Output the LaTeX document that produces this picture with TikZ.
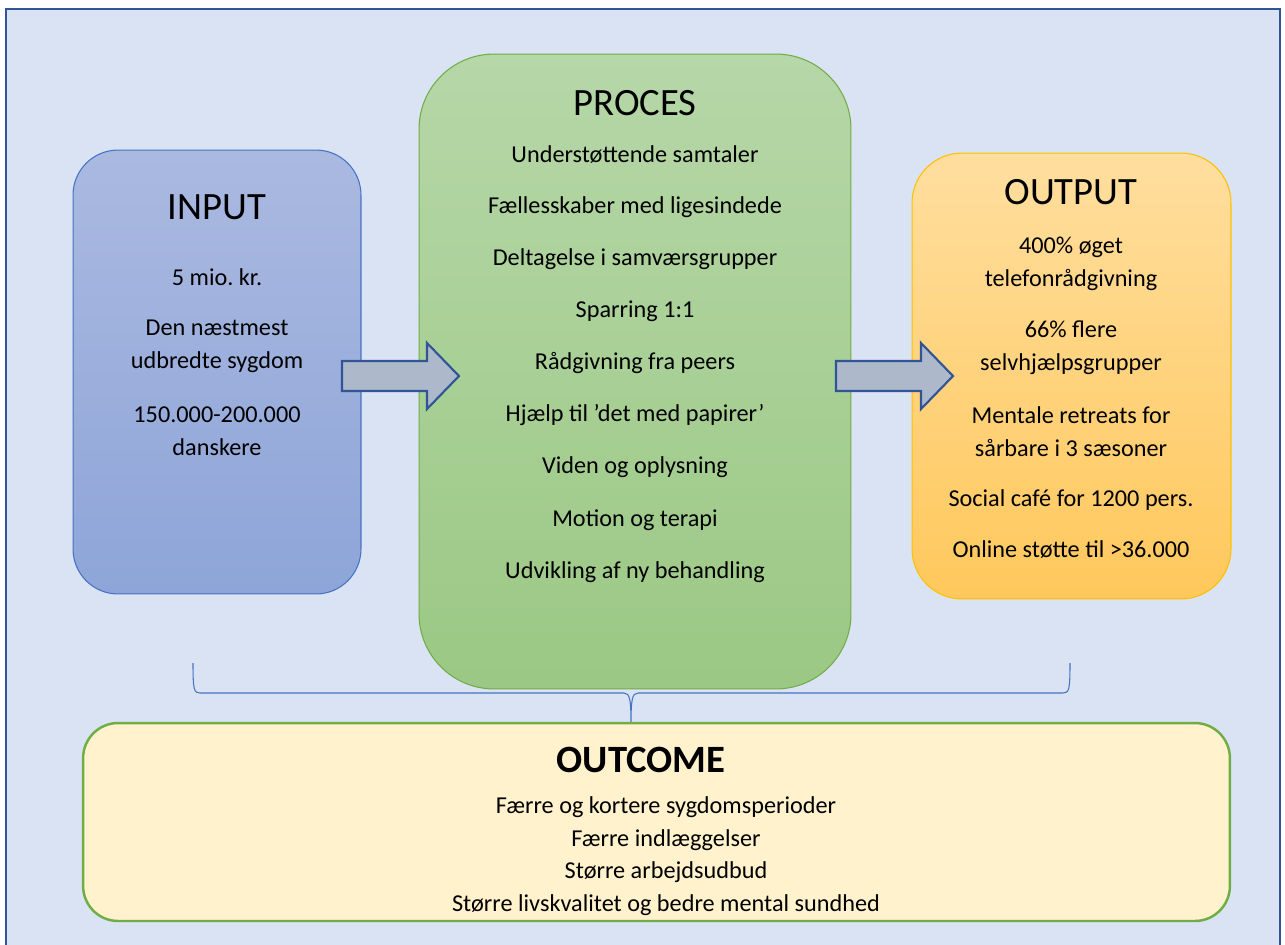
\documentclass[tikz,border=0pt]{standalone}
\usepackage{fontspec}
\setmainfont{Carlito}
\frenchspacing
\usepackage{tikz}
\usetikzlibrary{positioning}
\definecolor{framefill}{HTML}{DAE3F3}
\definecolor{frameline}{HTML}{2F5597}
\definecolor{inputtop}{HTML}{AAB9E0}
\definecolor{inputbottom}{HTML}{8EA5D9}
\definecolor{inputline}{HTML}{4472C4}
\definecolor{proctop}{HTML}{B6D7A8}
\definecolor{procbottom}{HTML}{9BC884}
\definecolor{procline}{HTML}{70AD47}
\definecolor{outtop}{HTML}{FFDE9E}
\definecolor{outbottom}{HTML}{FFC85C}
\definecolor{outline}{HTML}{FFC000}
\definecolor{outcomefill}{HTML}{FFF2CC}
\definecolor{arrowfill}{HTML}{ADB9CA}
\tikzset
{
    inputbox/.style   = {rectangle, rounded corners=0.9cm, draw=inputline, line width=0.6pt, top color=inputtop, bottom color=inputbottom, minimum width=5.76cm, minimum height=8.88cm},
    procbox/.style    = {rectangle, rounded corners=1.5cm, draw=procline, line width=0.6pt, top color=proctop, bottom color=procbottom, minimum width=8.64cm, minimum height=12.7cm},
    outbox/.style     = {rectangle, rounded corners=1cm, draw=outline, line width=0.6pt, top color=outtop, bottom color=outbottom, minimum width=6.38cm, minimum height=8.92cm},
    outcomebox/.style = {rectangle, rounded corners=0.7cm, draw=procline, line width=1.4pt, fill=outcomefill, minimum width=22.94cm, minimum height=3.96cm},
    title/.style      = {align=center, inner sep=0pt, font=\fontsize{22}{26}\selectfont},
    item/.style       = {align=center, inner sep=0pt, font=\fontsize{13.8}{18.8}\selectfont},
    blockarrow/.style = {draw=frameline, line width=1.2pt, fill=arrowfill, line join=miter},
    bracket/.style    = {draw=inputline, line width=0.6pt}
}

\begin{document}
\begin{tikzpicture}[x=0.02cm, y=-0.02cm]
\useasboundingbox (0,0) rectangle (1285,944);
\draw[fill=framefill, draw=frameline, line width=1.2pt] (6,9) rectangle (1280,950);
\newcommand\procGap{52.1}
\coordinate (braceL) at (193,663);
\coordinate (braceR) at (1070,663);
\coordinate (braceTip) at (631,725);
\draw[bracket] (braceL) .. controls (193,690) and (194,693) .. (200,693) -- (624,693)
  .. controls (630,693) and (631,700) .. (braceTip)
  .. controls (631,700) and (632,693) .. (638,693) -- (1063,693)
  .. controls (1069,693) and (1070,690) .. (braceR);
\node(input) [inputbox] at (217,372) {};
\node(proces) [procbox] at (635,371.5) {};
\node(output) [outbox] at (1071.5,376) {};
\node(outcome) [outcomebox] at (656.5,822) {};
\foreach \s in {342,836}
  \draw[blockarrow] (\s,361) -- ++(85,0) -- ++(0,-18) -- ++(32,33) -- ++(-32,33) -- ++(0,-18) -- ++(-85,0) -- cycle;
\node(inTitle) [title] at (217,207) {INPUT};
\node(in1) [item] at (217,277) {5 mio. kr.};
\node(in2) [item] at (217,346.5) {Den næstmest\\udbredte sygdom};
\node(in3) [item] at (217,431) {150.000-200.000\\danskere};
\node(procTitle) [title] at (635,103) {PROCES};
\foreach \t [count=\i] in {Understøttende samtaler, Fællesskaber med ligesindede, Deltagelse i samværsgrupper, Sparring 1:1, Rådgivning fra peers, Hjælp til ’det med papirer’, Viden og oplysning, Motion og terapi, Udvikling af ny behandling}
  \node(proc\i) [item] at (635,{155+\procGap*(\i-1)}) {\t};
\node(outTitle) [title] at (1071,192) {OUTPUT};
\node(out1) [item] at (1071,264) {400\% øget\\telefonrådgivning};
\node(out2) [item] at (1071,347.5) {66\% flere\\selvhjælpsgrupper};
\node(out3) [item] at (1071,432) {Mentale retreats for\\sårbare i 3 sæsoner};
\node(out4) [item] at (1071,500) {Social café for 1200 pers.};
\node(out5) [item] at (1071,550) {Online støtte til >36.000};
\node(outcomeTitle) [title, font=\fontsize{22}{26}\selectfont\bfseries] at (641,760) {OUTCOME};
\node(outcomeText) [item, font=\fontsize{13.8}{18.6}\selectfont] at (666,856) {Færre og kortere sygdomsperioder\\Færre indlæggelser\\Større arbejdsudbud\\Større livskvalitet og bedre mental sundhed};
\end{tikzpicture}
\end{document}
